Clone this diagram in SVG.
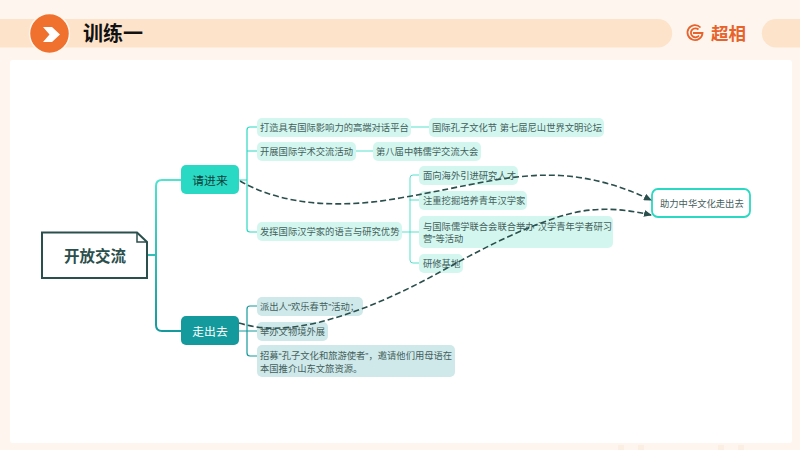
<svg xmlns="http://www.w3.org/2000/svg" width="800" height="450" viewBox="0 0 800 450">
<style>
text{font-family:"Noto Sans CJK SC","Noto Sans",sans-serif}
.t{font-family:"Liberation Sans","Noto Sans CJK SC",sans-serif;font-size:9.300px;fill:#44605c}
.a{fill:#d3f7ef}
.b{fill:#cfe9ea}
.c{fill:none;stroke-linecap:round;stroke-linejoin:round}
.l1{stroke:#2ad9c3;stroke-width:1.2}
.l2{stroke:#149a9c;stroke-width:1.2}
.d{fill:none;stroke:#2b4f4c;stroke-width:1.6;stroke-dasharray:6 3;marker-end:url(#ah)}
</style>
<defs>
<linearGradient id="g" gradientUnits="userSpaceOnUse" x1="0" y1="180" x2="0" y2="331"><stop offset="0" stop-color="#4fe3d0"/><stop offset="1" stop-color="#149a9c"/></linearGradient>
<marker id="ah" markerWidth="8" markerHeight="7" refX="7" refY="3.500" orient="auto" markerUnits="userSpaceOnUse"><path d="M0 0L8 3.500L0 7Z" fill="#2b4f4c"/></marker>
</defs>
<rect width="800" height="450" fill="#fef6ee"/>
<path d="M618 450V445H624V450ZM638 450V445H644V450ZM718 450V445H724V450ZM738 450V445H744V450Z" fill="#fbefe4"/>
<rect x="10" y="60" width="782" height="383" rx="3" fill="#fff"/>
<g id="header">
<path d="M0 19H658a14 14 0 0 1 0 28.500H0Z" fill="#fde3ca"/>
<path d="M800 19H776a14 14 0 0 0 0 28.500H800Z" fill="#fde3ca"/>
<circle cx="49.500" cy="33.500" r="20" fill="#f0702e" stroke="#fff6ee" stroke-width="1.500"/>
<path d="M43 27H52L60 34.500L52 42H43L49.500 34.500Z" fill="#fff"/>
<text x="83" y="41" font-size="20" font-weight="700" fill="#111">训练一</text>
<g fill="none" stroke="#e8622c" stroke-width="1.800"><path d="M700.500 27.500A7.500 7.500 0 1 0 702.500 33H693"/><path d="M698.500 29.500A4.500 4.500 0 1 0 699 35.500"/></g>
<text x="711" y="39.500" font-size="17.500" font-weight="700" fill="#e8622c">超相</text>
</g>
<g id="connectors">
<path class="c" stroke="url(#g)" stroke-width="2" d="M147 255H156M181 180H162Q156 180 156 186V325Q156 331 162 331H181"/>
<path class="c l1" d="M239 180H247M257 127H250Q247 127 247 130V229Q247 232 250 232H257M247 151H257"/>
<path class="c l1" style="stroke-width:.8" d="M411 127H429M356 151H373M402 232H419M419 175H413Q410 175 410 178V260Q410 263 413 263H419M410 200H419"/>
<path class="c l2" d="M239 331H257M257 306H250Q247 306 247 309V353Q247 356 250 356H257"/>
</g>
<g id="n-root"><path d="M42 232.500H137L147 242V278H42Z" fill="#fff" stroke="#2b4f4c" stroke-width="2"/><path d="M137 233V242H147" fill="none" stroke="#2b4f4c" stroke-width="1.500"/><text x="95" y="262" text-anchor="middle" font-size="15.500" font-weight="700" fill="#2b4f4c">开放交流</text></g>
<g id="n-qjl"><rect x="181" y="165" width="58" height="29" rx="5" fill="#2ad9c3"/><text x="210" y="185" text-anchor="middle" font-size="11.800" fill="#0c3f3b">请进来</text></g>
<g id="n-zcq"><rect x="181" y="316" width="58" height="29" rx="5" fill="#149a9c"/><text x="210" y="336" text-anchor="middle" font-size="11.800" fill="#fff">走出去</text></g>
<g id="n1"><rect class="a" x="257" y="118" width="154" height="19" rx="5"/><text class="t" x="260" y="131">打造具有国际影响力的高端对话平台</text></g>
<g id="n2"><rect class="a" x="429" y="118" width="175" height="19" rx="5"/><text class="t" x="432" y="131">国际孔子文化节 第七届尼山世界文明论坛</text></g>
<g id="n3"><rect class="a" x="257" y="142" width="99" height="19" rx="5"/><text class="t" x="260" y="155">开展国际学术交流活动</text></g>
<g id="n4"><rect class="a" x="373" y="142" width="108" height="19" rx="5"/><text class="t" x="376" y="155">第八届中韩儒学交流大会</text></g>
<g id="n5"><rect class="a" x="257" y="222" width="145" height="19" rx="5"/><text class="t" x="260" y="235">发挥国际汉学家的语言与研究优势</text></g>
<g id="n6"><rect class="a" x="419" y="166" width="99" height="19" rx="5"/><text class="t" x="423" y="179">面向海外引进研究人才</text></g>
<g id="n7"><rect class="a" x="419" y="191" width="108" height="19" rx="5"/><text class="t" x="423" y="204">注重挖掘培养青年汉学家</text></g>
<g id="n8"><rect class="a" x="419" y="216" width="194" height="32" rx="5"/><text class="t"><tspan x="423" y="230">与国际儒学联合会联合举办“汉学青年学者研习</tspan><tspan x="423" y="242">营”等活动</tspan></text></g>
<g id="n9"><rect class="a" x="419" y="254" width="44" height="19" rx="5"/><text class="t" x="423" y="267">研修基地</text></g>
<g id="n10"><rect class="b" x="257" y="297" width="106" height="19" rx="5"/><text class="t" x="260" y="310">派出人“欢乐春节”活动；</text></g>
<g id="n11"><rect class="b" x="257" y="322" width="71" height="19" rx="5"/><text class="t" x="260" y="335">举办文物境外展</text></g>
<g id="n12"><rect class="b" x="257" y="345" width="198" height="32" rx="5"/><text class="t"><tspan x="260" y="359">招募“孔子文化和旅游使者”，邀请他们用母语在</tspan><tspan x="260" y="372">本国推介山东文旅资源。</tspan></text></g>
<g id="n13"><rect x="652" y="189" width="98" height="28" rx="6" fill="#fff" stroke="#2ad9c3" stroke-width="1.800"/><text class="t" x="660" y="207">助力中华文化走出去</text></g>
<g id="relations">
<path class="d" d="M240 181C285 207 345 208 400 198C470 186 510 173 560 175.500C600 178 630 190 651 200"/>
<path class="d" d="M239 323C265 331 290 329 320 322C360 312 400 294 440 272C480 250 530 223 575 212.500C600 207 625 209 651 215"/>
</g>
</svg>
